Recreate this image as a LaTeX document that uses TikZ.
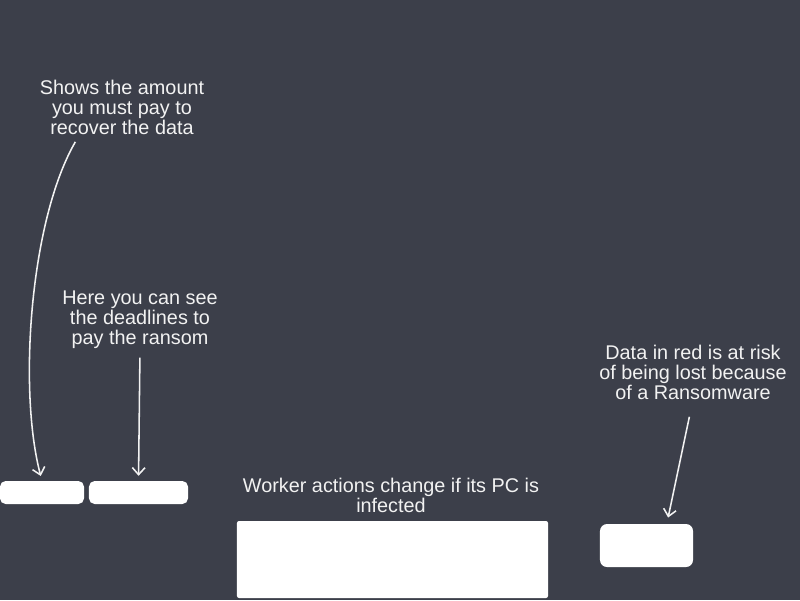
\documentclass[tikz,border=0pt]{standalone}
\usepackage{fontspec}
\setmainfont{Liberation Sans}
\usetikzlibrary{arrows.meta}
\definecolor{slate}{HTML}{3C3F4A}
\definecolor{chalk}{HTML}{F2F2F2}

\begin{document}
\begin{tikzpicture}[x=0.025cm,y=-0.025cm,
  note/.style={text=chalk,align=center,inner sep=0pt,font=\fontsize{14.1}{14.2}\selectfont},
  card/.style={fill=white,draw=none,rounded corners=4pt,inner sep=0pt},
  pointer/.style={draw=chalk,line width=1.1pt,-{Straight Barb[length=5pt,width=9pt]}}]
\fill[slate] (0,0) rectangle (800,600); % background
\useasboundingbox (0,0) rectangle (800,600);
% the notes
\node[note] (amount) at (122,107) {Shows the amount\\you must pay to\\recover the data};
\node[note] (deadline) at (140,320) {Here you can see\\the deadlines to\\pay the ransom};
\node[note] (worker) at (391,495) {Worker actions change if its PC is\\infected};
\node[note] (risk) at (693,372) {Data in red is at risk\\of being lost because\\of a Ransomware};
% the boxes
\node[card,minimum width=2.1cm,minimum height=0.575cm] (fee) at (42,492.5) {};
\node[card,minimum width=2.475cm,minimum height=0.575cm] (timer) at (138.5,492.5) {};
\node[card,rounded corners=1.5pt,minimum width=7.775cm,minimum height=1.925cm] (status) at (392.5,559.5) {};
\node[card,rounded corners=5pt,minimum width=2.325cm,minimum height=1.075cm] (files) at (646.5,545.5) {};
% arrows
\draw[pointer,shorten <=6pt,shorten >=3.5pt] (amount.213) .. controls (30,220) and (18,390) .. (fee.north);
\draw[pointer,shorten <=6pt,shorten >=3.5pt] (deadline.south) -- (timer.north);
\draw[pointer,shorten <=12.5pt,shorten >=4.5pt] (risk.south) -- (files.47);
\end{tikzpicture}
\end{document}
